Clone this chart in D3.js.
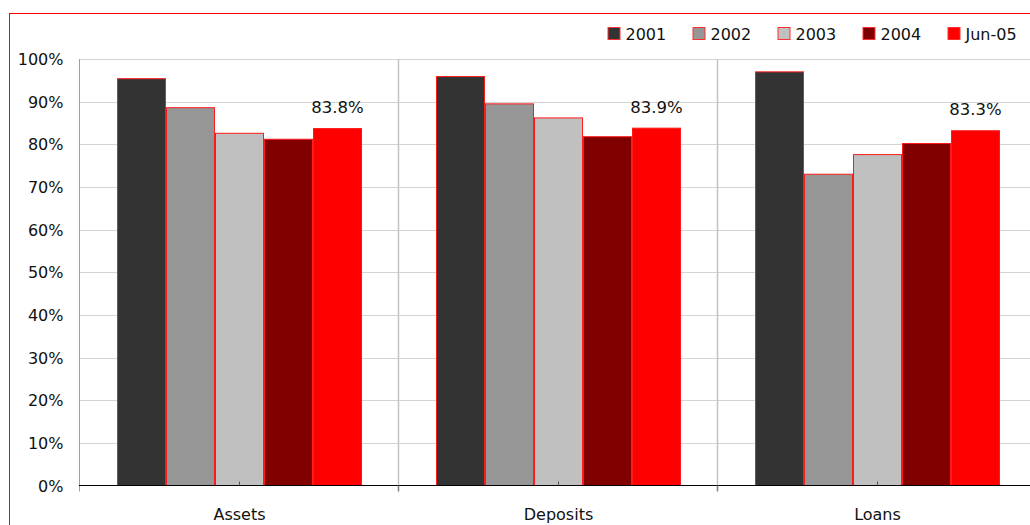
<!DOCTYPE html>
<html>
<head>
<meta charset="utf-8">
<script src="https://cdn.jsdelivr.net/npm/d3@7"></script>
<style>
  html, body { margin: 0; padding: 0; background: #fff; }
  svg { display: block; }
  text { font-family: Tahoma, "DejaVu Sans", sans-serif; fill: #111; }
</style>
</head>
<body>
<svg id="chart" width="1030" height="525"></svg>
<script>
const categories = ["Assets", "Deposits", "Loans"];
const seriesNames = ["2001", "2002", "2003", "2004", "Jun-05"];
const seriesColors = ["#333333", "#969696", "#C0C0C0", "#800000", "#FF0000"];
const values2001 = [0.955, 0.960, 0.971];
const values2002 = [0.887, 0.896, 0.731];
const values2003 = [0.827, 0.863, 0.777];
const values2004 = [0.813, 0.819, 0.803];
const valuesJun05 = [0.838, 0.839, 0.833];
const yTicks = [0, 0.1, 0.2, 0.3, 0.4, 0.5, 0.6, 0.7, 0.8, 0.9, 1.0];
const labelSeries = "Jun-05";

const seriesValues = [values2001, values2002, values2003, values2004, valuesJun05];
const data = categories.map((c, ci) => ({
  category: c,
  bars: seriesNames.map((s, si) => ({ series: s, value: seriesValues[si][ci], color: seriesColors[si] }))
}));

const svg = d3.select("#chart");

// outer red frame (left and top edges visible)
const frame = svg.append("g").attr("shape-rendering", "crispEdges");
frame.append("line").attr("x1", 9.5).attr("x2", 9.5).attr("y1", 13).attr("y2", 525)
  .attr("stroke", "#ff0000").attr("stroke-width", 1);
frame.append("line").attr("x1", 9).attr("x2", 1030).attr("y1", 13.5).attr("y2", 13.5)
  .attr("stroke", "#ff0000").attr("stroke-width", 1);

const plotLeft = 80, plotRight = 1037, plotTop = 59, plotBottom = 485.5;

const x = d3.scaleBand().domain(categories).range([plotLeft, plotRight]).paddingInner(0).paddingOuter(0);
const xs = d3.scaleBand().domain(seriesNames).range([0, x.bandwidth()]).paddingInner(0).paddingOuter(0.755);
const y = d3.scaleLinear().domain([0, 1]).range([plotBottom, plotTop]);

// horizontal gridlines
svg.append("g").selectAll("line").data(yTicks.filter(t => t > 0)).join("line")
  .attr("x1", plotLeft).attr("x2", 1030)
  .attr("y1", d => Math.round(y(d)) + 0.5).attr("y2", d => Math.round(y(d)) + 0.5)
  .attr("stroke", "#d4d4d4").attr("stroke-width", 1);

// vertical category separators
const boundaries = categories.slice(1).map(c => x(c));
svg.append("g").selectAll("line").data(boundaries).join("line")
  .attr("x1", d => Math.round(d) - 0.5).attr("x2", d => Math.round(d) - 0.5)
  .attr("y1", plotTop).attr("y2", plotBottom)
  .attr("stroke", "#c4c4c4").attr("stroke-width", 1.5);

// y axis
const yAxis = d3.axisLeft(y).tickValues(yTicks).tickFormat(d3.format(".0%")).tickSize(0).tickPadding(16);
const gy = svg.append("g").attr("transform", `translate(${plotLeft - 0.5},0)`).call(yAxis);
gy.select(".domain").attr("stroke", "#a0a0a0").attr("d", `M0,${plotTop}V${plotBottom + 6}`);
gy.selectAll("text").attr("font-size", "16px").attr("fill", "#111")
  .style("font-family", 'Tahoma, "DejaVu Sans", sans-serif').attr("dy", "0.35em");

// bars
const groups = svg.append("g").selectAll("g").data(data).join("g")
  .attr("transform", d => `translate(${x(d.category)},0)`);

groups.selectAll("rect").data(d => d.bars).join("rect")
  .attr("x", d => xs(d.series) + 0.5)
  .attr("y", d => y(d.value) + 0.5)
  .attr("width", xs.bandwidth() - 1)
  .attr("height", d => plotBottom - y(d.value) - 0.5)
  .attr("fill", d => d.color)
  .attr("stroke", "#ff1a1a").attr("stroke-width", 1);

// data labels
groups.selectAll("text.val").data(d => d.bars.filter(b => b.series === labelSeries)).join("text")
  .attr("class", "val")
  .attr("x", d => xs(d.series) + xs.bandwidth() / 2)
  .attr("y", d => y(d.value) - 15)
  .attr("text-anchor", "middle")
  .attr("font-size", "16.5px")
  .text(d => d3.format(".1%")(d.value));

// x axis
svg.append("line")
  .attr("x1", plotLeft - 1).attr("x2", 1030)
  .attr("y1", plotBottom).attr("y2", plotBottom)
  .attr("stroke", "#000").attr("stroke-width", 1.2);

// boundary ticks below axis
svg.append("g").selectAll("line").data(boundaries).join("line")
  .attr("x1", d => Math.round(d) - 0.5).attr("x2", d => Math.round(d) - 0.5)
  .attr("y1", plotBottom).attr("y2", plotBottom + 6)
  .attr("stroke", "#808080").attr("stroke-width", 1.5);

// center ticks above axis
svg.append("g").selectAll("line").data(categories).join("line")
  .attr("x1", d => Math.round(x(d) + x.bandwidth() / 2) - 0.5)
  .attr("x2", d => Math.round(x(d) + x.bandwidth() / 2) - 0.5)
  .attr("y1", plotBottom - 4).attr("y2", plotBottom)
  .attr("stroke", "#555").attr("stroke-width", 1);

// category labels
svg.append("g").selectAll("text").data(categories).join("text")
  .attr("x", d => x(d) + x.bandwidth() / 2)
  .attr("y", 519.5)
  .attr("text-anchor", "middle")
  .attr("font-size", "16px")
  .text(d => d);

// legend
const legendX = d3.scaleBand().domain(seriesNames).range([607.5, 1032.5]);
const legend = svg.append("g").selectAll("g").data(seriesNames).join("g")
  .attr("transform", d => `translate(${legendX(d)},0)`);
legend.append("rect")
  .attr("x", 0.5).attr("y", 27.5).attr("width", 12).attr("height", 12)
  .attr("fill", (d, i) => seriesColors[i])
  .attr("stroke", "#ff3030").attr("stroke-width", 1);
legend.append("text")
  .attr("x", 18).attr("y", 39.5)
  .attr("font-size", "16px")
  .text(d => d);
</script>
</body>
</html>
